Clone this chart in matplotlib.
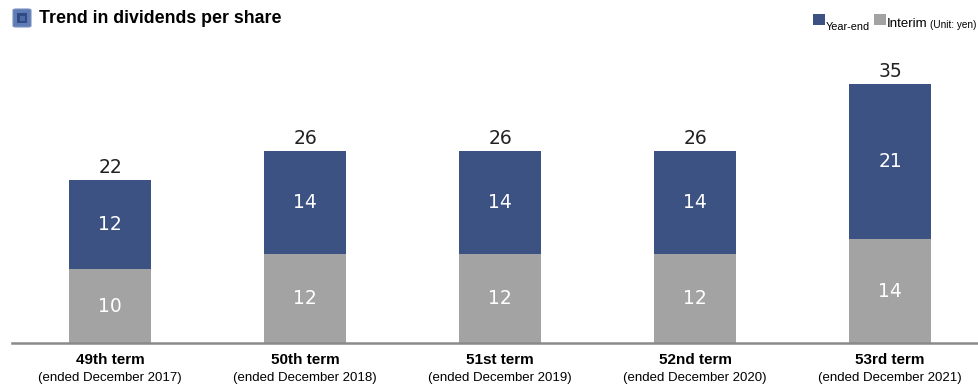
import matplotlib
matplotlib.use("Agg")
import matplotlib.pyplot as plt
from matplotlib.patches import Rectangle, FancyBboxPatch, Circle

terms = ["49th term", "50th term", "51st term", "52nd term", "53rd term"]
periods = ["(ended December 2017)", "(ended December 2018)", "(ended December 2019)",
           "(ended December 2020)", "(ended December 2021)"]
interim = [10, 12, 12, 12, 14]
year_end = [12, 14, 14, 14, 21]
totals = [22, 26, 26, 26, 35]

NAVY = "#3c5282"
GRAY = "#a3a3a3"

W, H = 979, 390
fig = plt.figure(figsize=(W / 100, H / 100), dpi=100)

# axes: baseline at y=343 px, x from 12 to 979 px
base_px = 343
top_px = 60
ax = fig.add_axes([12 / W, (H - base_px) / H, (W - 12) / W, (base_px - top_px) / H])
x = list(range(len(terms)))
ax.bar(x, interim, width=0.42, color=GRAY)
ax.bar(x, year_end, bottom=interim, width=0.42, color=NAVY)
ax.set_xlim(-0.503, 4.456)
ax.set_ylim(0, (base_px - top_px) / 7.4)
for s in ["top", "right", "left"]:
    ax.spines[s].set_visible(False)
ax.spines["bottom"].set_color("#8a8a8a")
ax.spines["bottom"].set_linewidth(1.8)
ax.set_xticks([])
ax.set_yticks([])

for i in x:
    ax.text(i, interim[i] / 2, str(interim[i]), ha="center", va="center",
            color="white", fontsize=13.5, family="DejaVu Sans")
    ax.text(i, interim[i] + year_end[i] / 2, str(year_end[i]), ha="center", va="center",
            color="white", fontsize=13.5, family="DejaVu Sans")
    ax.text(i, totals[i] + 0.4, str(totals[i]), ha="center", va="bottom",
            color="#222222", fontsize=13.5, family="DejaVu Sans")
    ax.annotate(terms[i], xy=(i, 0), xycoords=("data", "axes fraction"),
                xytext=(0, -17), textcoords="offset pixels", ha="center", va="center",
                fontsize=11, fontweight="bold", family="Liberation Sans")
    ax.annotate(periods[i], xy=(i, 0), xycoords=("data", "axes fraction"),
                xytext=(0, -35), textcoords="offset pixels", ha="center", va="center",
                fontsize=9.5, family="Liberation Sans")

# title icon
fig.patches.append(FancyBboxPatch((13 / W, (H - 27) / H), 18 / W, 18 / H,
                                  boxstyle="round,pad=0,rounding_size=0.003",
                                  transform=fig.transFigure, facecolor="#5f7cb4",
                                  edgecolor="#7a93c4", lw=0.8))
fig.patches.append(Rectangle((17 / W, (H - 23) / H), 10 / W, 10 / H,
                             transform=fig.transFigure, facecolor="#2f4a85", edgecolor="none"))
fig.patches.append(Rectangle((19.5 / W, (H - 20.5) / H), 5 / W, 5 / H,
                             transform=fig.transFigure, facecolor="#4d6aa6", edgecolor="none"))
fig.text(39 / W, 1 - 18.5 / H, "Trend in dividends per share", ha="left", va="center",
         fontsize=12.8, fontweight="bold", family="Liberation Sans")

# legend
fig.patches.append(Rectangle((813 / W, (H - 25) / H), 12 / W, 11 / H,
                             transform=fig.transFigure, facecolor=NAVY, edgecolor="none"))
fig.text(826 / W, 1 - 27 / H, "Year-end", ha="left", va="center", fontsize=7.8,
         family="Liberation Sans")
fig.patches.append(Rectangle((874 / W, (H - 25) / H), 12 / W, 11 / H,
                             transform=fig.transFigure, facecolor=GRAY, edgecolor="none"))
fig.text(887 / W, 1 - 24 / H, "Interim", ha="left", va="center", fontsize=9.5,
         family="Liberation Sans")
fig.text(930 / W, 1 - 25 / H, "(Unit: yen)", ha="left", va="center", fontsize=7.2,
         family="Liberation Sans")

fig.savefig("out.png", dpi=100)
